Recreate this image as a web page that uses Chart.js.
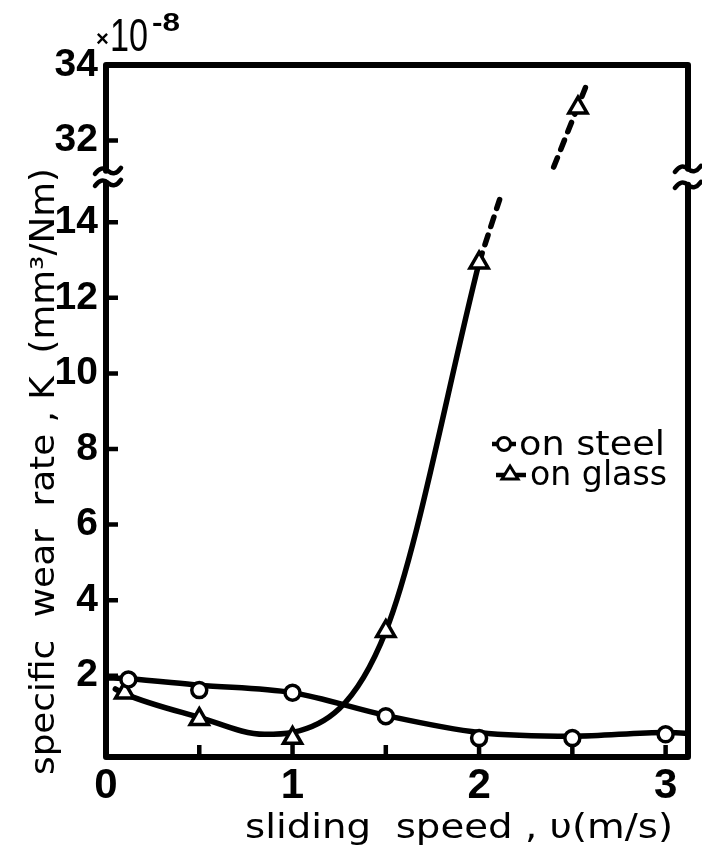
<!DOCTYPE html>
<html>
<head>
<meta charset="utf-8">
<style>
  html, body { margin: 0; padding: 0; background: #fff; }
  canvas { display: block; }
</style>
</head>
<body>
<canvas id="Chart" width="702" height="854"></canvas>
<script src="https://cdn.jsdelivr.net/npm/chart.js@4.4.1/dist/chart.umd.min.js"></script>
<script>
// sliding speed (m/s) and specific wear rate K (x1e-8 mm3/Nm)
const steelSpeed = [0.12, 0.5, 1.0, 1.5, 2.0, 2.5, 3.0];
const steelK = [1.9, 1.62, 1.55, 0.93, 0.35, 0.35, 0.45];
const glassSpeed = [0.1, 0.5, 1.0, 1.5, 2.0, 2.53];
const glassK = [1.55, 0.85, 0.35, 3.18, 12.93, 32.87];

// the hand drawn curves
const steelCurveSpeed = [0, 0.12, 0.5, 1.0, 1.5, 2.0, 2.5, 3.0, 3.12];
const steelCurveK = [1.95, 1.92, 1.75, 1.55, 0.95, 0.5, 0.4, 0.5, 0.48];
const glassCurveSpeed = [0.05, 0.1, 0.5, 0.85, 1.0, 1.5, 2.0];
const glassCurveK = [1.65, 1.52, 0.9, 0.45, 0.5, 3.18, 12.93];
// dashed extrapolation, both sides of the axis break
const glassDashSpeedLow = [2.0, 2.11];
const glassDashKLow = [12.93, 14.6];
const glassDashSpeedHigh = [2.40, 2.57];
const glassDashKHigh = [31.3, 33.4];

const yTickValues = [2, 4, 6, 8, 10, 12, 14, 32, 34];
const legendLabels = ["on steel", "on glass"];

// axis break: values above the gap are shifted down
const BREAK_AT = 15.2;
const UPPER_SHIFT = 15.84;
const toVisual = (v) => (v > BREAK_AT ? v - UPPER_SHIFT : v);
const fromVisual = (v) => (v > BREAK_AT ? v + UPPER_SHIFT : v);

const pts = (xs, ys) => xs.map((x, i) => ({ x: x, y: toVisual(ys[i]) }));

const LABEL_FONT = '"Liberation Sans", Arimo, sans-serif';
const TEXT_FONT = '"DejaVu Sans", "Liberation Sans", sans-serif';

function fitText(ctx, text, x, y, width) {
  const w = ctx.measureText(text).width;
  ctx.save();
  ctx.translate(x, y);
  ctx.scale(width / w, 1);
  ctx.fillText(text, 0, 0);
  ctx.restore();
}

function tilde(ctx, cx, cy) {
  ctx.beginPath();
  ctx.moveTo(cx - 13, cy + 3);
  ctx.quadraticCurveTo(cx - 6.5, cy - 6, cx, cy);
  ctx.quadraticCurveTo(cx + 6.5, cy + 6, cx + 13, cy - 3);
  ctx.stroke();
}

const framePlugin = {
  id: "frame",
  beforeDatasetsDraw(chart) {
    const { ctx, chartArea } = chart;
    const { left, right, top, bottom } = chartArea;
    const xs = chart.scales.x;
    const ys = chart.scales.y;
    const yb = ys.getPixelForValue(BREAK_AT);
    ctx.save();
    ctx.strokeStyle = "#000";
    ctx.lineCap = "round";
    ctx.lineJoin = "round";
    ctx.lineWidth = 6;
    ctx.beginPath();
    ctx.moveTo(left, yb - 6);
    ctx.lineTo(left, top);
    ctx.lineTo(right, top);
    ctx.lineTo(right, yb - 8);
    ctx.moveTo(left, yb + 6);
    ctx.lineTo(left, bottom);
    ctx.lineTo(right, bottom);
    ctx.lineTo(right, yb + 8);
    ctx.stroke();

    // inward ticks
    ctx.lineWidth = 4.5;
    ctx.lineCap = "butt";
    ctx.beginPath();
    ys.ticks.forEach((t) => {
      const p = ys.getPixelForValue(t.value);
      if (p - top < 4) return;
      ctx.moveTo(left, p);
      ctx.lineTo(left + 12, p);
    });
    xs.ticks.forEach((t) => {
      if (t.value === 0) return;
      const p = xs.getPixelForValue(t.value);
      ctx.moveTo(p, bottom);
      ctx.lineTo(p, bottom - 12);
    });
    ctx.stroke();

    // break marks
    ctx.lineWidth = 4.5;
    ctx.lineCap = "round";
    tilde(ctx, left + 2, yb - 6);
    tilde(ctx, left + 2, yb + 6);
    tilde(ctx, right, yb - 8);
    tilde(ctx, right, yb + 8);
    ctx.restore();
  },
  afterDraw(chart) {
    const { ctx } = chart;
    ctx.save();
    ctx.fillStyle = "#000";
    ctx.strokeStyle = "#000";

    // axis titles
    ctx.font = "33px " + TEXT_FONT;
    ctx.textBaseline = "alphabetic";
    ctx.textAlign = "left";
    fitText(ctx, "sliding  speed , \u03C5(m/s)", 245, 838, 428);
    ctx.save();
    ctx.translate(54, 775);
    ctx.rotate(-Math.PI / 2);
    fitText(ctx, "specific  wear  rate , K  (mm\u00B3/Nm)", 0, 0, 607);
    ctx.restore();

    // exponent
    ctx.font = "bold 22px " + LABEL_FONT;
    ctx.fillText("\u00D7", 96, 46);
    ctx.font = "46px " + LABEL_FONT;
    fitText(ctx, "10", 110, 51, 38);
    ctx.font = "bold 26px " + LABEL_FONT;
    fitText(ctx, "-8", 152, 31, 28);

    // legend
    ctx.lineWidth = 4.5;
    ctx.beginPath();
    ctx.moveTo(492, 444);
    ctx.lineTo(516, 444);
    ctx.moveTo(496, 475);
    ctx.lineTo(526, 475);
    ctx.stroke();
    ctx.lineWidth = 3;
    ctx.fillStyle = "#fff";
    ctx.beginPath();
    ctx.arc(504, 444, 6.5, 0, Math.PI * 2);
    ctx.fill();
    ctx.stroke();
    ctx.beginPath();
    ctx.moveTo(510, 466);
    ctx.lineTo(518, 479);
    ctx.lineTo(502, 479);
    ctx.closePath();
    ctx.fill();
    ctx.stroke();
    ctx.fillStyle = "#000";
    ctx.font = "33px " + TEXT_FONT;
    fitText(ctx, legendLabels[0], 519, 455, 146);
    fitText(ctx, legendLabels[1], 530, 485, 137);
    ctx.restore();
  },
};

const lineStyle = {
  showLine: true,
  pointRadius: 0,
  borderColor: "#000",
  borderWidth: 5.5,
  borderCapStyle: "round",
  borderJoinStyle: "round",
  fill: false,
  order: 2,
};
const dashStyle = { ...lineStyle, tension: 0, borderDash: [10, 9], borderCapStyle: "round" };

const ctx = document.getElementById("Chart").getContext("2d");
new Chart(ctx, {
  type: "scatter",
  data: {
    datasets: [
      {
        label: legendLabels[0],
        data: pts(steelSpeed, steelK),
        pointStyle: "circle",
        pointRadius: 7.5,
        pointBorderWidth: 3.5,
        pointBackgroundColor: "#fff",
        pointBorderColor: "#000",
        order: 0,
      },
      {
        label: legendLabels[1],
        data: pts(glassSpeed, glassK),
        pointStyle: "triangle",
        pointRadius: 10.5,
        pointBorderWidth: 3.5,
        pointBackgroundColor: "#fff",
        pointBorderColor: "#000",
        order: 0,
      },
      { ...lineStyle, data: pts(steelCurveSpeed, steelCurveK), cubicInterpolationMode: "monotone" },
      { ...lineStyle, data: pts(glassCurveSpeed, glassCurveK), cubicInterpolationMode: "monotone" },
      { ...dashStyle, data: pts(glassDashSpeedLow, glassDashKLow) },
      { ...dashStyle, data: pts(glassDashSpeedHigh, glassDashKHigh) },
    ],
  },
  options: {
    responsive: false,
    animation: false,
    layout: { padding: { top: 65, right: 13, left: 0, bottom: 0 } },
    plugins: {
      legend: { display: false },
      tooltip: { enabled: false },
    },
    scales: {
      x: {
        type: "linear",
        min: 0,
        max: 3.12,
        afterFit: (s) => { s.height = 97; },
        grid: { display: false, drawTicks: false },
        border: { display: false },
        ticks: {
          stepSize: 0.5,
          includeBounds: false,
          autoSkip: false,
          maxRotation: 0,
          padding: 4,
          color: "#000",
          font: { family: LABEL_FONT, size: 42, weight: "bold" },
          callback: (v) => (Number.isInteger(v) ? String(v) : ""),
        },
      },
      y: {
        type: "linear",
        min: -0.15,
        max: toVisual(34),
        afterFit: (s) => { s.width = 106; },
        afterBuildTicks: (s) => {
          s.ticks = yTickValues.map((v) => ({ value: toVisual(v) }));
        },
        grid: { display: false, drawTicks: false },
        border: { display: false },
        ticks: {
          autoSkip: false,
          padding: 8,
          color: "#000",
          font: { family: LABEL_FONT, size: 39, weight: "bold" },
          callback: (v) => String(Math.round(fromVisual(v))),
        },
      },
    },
  },
  plugins: [framePlugin],
});
</script>
</body>
</html>
